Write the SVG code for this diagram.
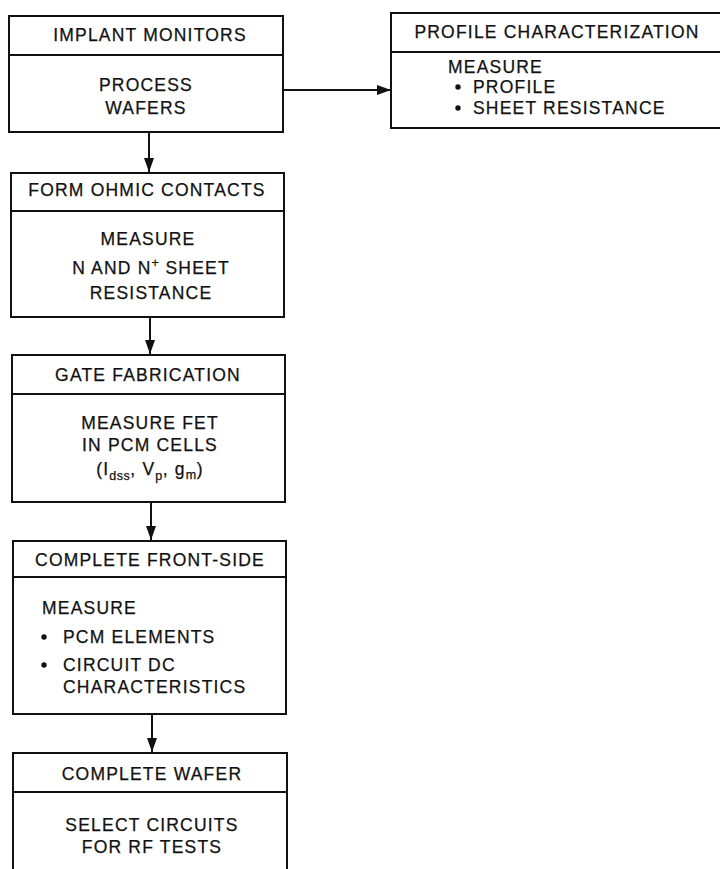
<svg xmlns="http://www.w3.org/2000/svg" width="722" height="869" viewBox="0 0 722 869">
<style>
.box{fill:none;stroke:#111;stroke-width:2}
.t{font-family:"Liberation Sans",Arial,sans-serif;font-size:17.5px;letter-spacing:1.2px;fill:#111;stroke:#111;stroke-width:0.25}
.c{text-anchor:middle}
.sub{font-size:12.5px;letter-spacing:0.5px}
.con{stroke:#111;stroke-width:2;fill:none}
</style>
<defs>
<marker id="ah" markerWidth="14" markerHeight="10" refX="14" refY="5" orient="auto" markerUnits="userSpaceOnUse" viewBox="0 0 14 10">
<path d="M0,0 L14,5 L0,10 Z" fill="#111"/>
</marker>
</defs>
<rect width="722" height="869" fill="#fff"/>
<g id="implant">
<rect class="box" x="9" y="16" width="274" height="116"/>
<line class="box" x1="9" y1="55" x2="283" y2="55"/>
<text class="t c" x="150" y="41">IMPLANT MONITORS</text>
<text class="t c" x="146" y="91">PROCESS</text>
<text class="t c" x="146" y="114">WAFERS</text>
</g>
<g id="profile">
<path class="box" d="M720,13 L391,13 L391,128 L720,128"/>
<line class="box" x1="391" y1="52" x2="720" y2="52"/>
<text class="t c" x="557" y="38">PROFILE CHARACTERIZATION</text>
<text class="t" x="448" y="73">MEASURE</text>
<circle cx="458" cy="87" r="2.7" fill="#111"/>
<text class="t" x="473" y="93">PROFILE</text>
<circle cx="458" cy="108" r="2.7" fill="#111"/>
<text class="t" x="473" y="114">SHEET RESISTANCE</text>
</g>
<g id="ohmic">
<rect class="box" x="11" y="173" width="273" height="144"/>
<line class="box" x1="11" y1="211" x2="284" y2="211"/>
<text class="t c" x="147" y="196">FORM OHMIC CONTACTS</text>
<text class="t c" x="148" y="245">MEASURE</text>
<text class="t c" x="151" y="274">N AND N<tspan class="sub" dy="-7">+</tspan><tspan dy="7"> SHEET</tspan></text>
<text class="t c" x="151" y="299">RESISTANCE</text>
</g>
<g id="gate">
<rect class="box" x="12" y="355" width="273" height="147"/>
<line class="box" x1="12" y1="394" x2="285" y2="394"/>
<text class="t c" x="148" y="381">GATE FABRICATION</text>
<text class="t c" x="150" y="429">MEASURE FET</text>
<text class="t c" x="150" y="451">IN PCM CELLS</text>
<text class="t c" x="150" y="475">(I<tspan class="sub" dy="5">dss</tspan><tspan dy="-5">, V</tspan><tspan class="sub" dy="5">p</tspan><tspan dy="-5">, g</tspan><tspan class="sub" dy="4">m</tspan><tspan dy="-4">)</tspan></text>
</g>
<g id="frontside">
<rect class="box" x="13" y="541" width="273" height="173"/>
<line class="box" x1="13" y1="577" x2="286" y2="577"/>
<text class="t c" x="150" y="566">COMPLETE FRONT-SIDE</text>
<text class="t" x="42" y="614">MEASURE</text>
<circle cx="44" cy="637" r="2.7" fill="#111"/>
<text class="t" x="63" y="643">PCM ELEMENTS</text>
<circle cx="44" cy="665" r="2.7" fill="#111"/>
<text class="t" x="63" y="671">CIRCUIT DC</text>
<text class="t" x="63" y="693">CHARACTERISTICS</text>
</g>
<g id="wafer">
<path class="box" d="M13,869 L13,753 L287,753 L287,869"/>
<line class="box" x1="13" y1="792" x2="287" y2="792"/>
<text class="t c" x="152" y="780">COMPLETE WAFER</text>
<text class="t c" x="152" y="831">SELECT CIRCUITS</text>
<text class="t c" x="152" y="853">FOR RF TESTS</text>
</g>
<g id="connectors">
<line class="con" x1="149" y1="132" x2="149" y2="172" marker-end="url(#ah)"/>
<line class="con" x1="283" y1="90" x2="391" y2="90" marker-end="url(#ah)"/>
<line class="con" x1="150" y1="317" x2="150" y2="354" marker-end="url(#ah)"/>
<line class="con" x1="151" y1="502" x2="151" y2="540" marker-end="url(#ah)"/>
<line class="con" x1="152" y1="714" x2="152" y2="752" marker-end="url(#ah)"/>
</g>
</svg>
